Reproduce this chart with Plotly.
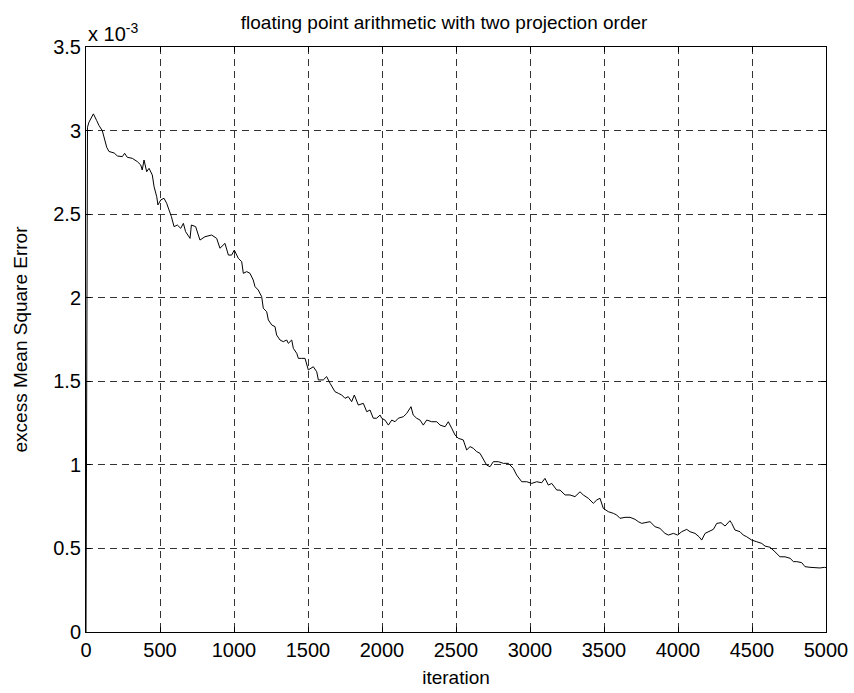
import plotly.graph_objects as go

# iteration index and excess MSE (in units of 1e-3)
iteration = [
    0, 10, 20, 50, 72, 88, 110, 122, 140, 155, 190, 212, 245, 261, 279, 313, 347, 370, 380, 392,
    410, 426, 448, 460, 478, 486, 505, 527, 545, 561, 577, 595, 617, 640, 658, 673, 703, 712, 741, 770,
    804, 849, 883, 905, 939, 962, 984, 1002, 1029, 1052, 1063, 1086, 1108, 1130, 1142, 1164, 1187, 1198, 1221, 1232,
    1255, 1277, 1288, 1311, 1333, 1356, 1367, 1390, 1401, 1424, 1435, 1457, 1480, 1502, 1536, 1559, 1570, 1603, 1626, 1649,
    1682, 1705, 1728, 1750, 1772, 1795, 1813, 1840, 1874, 1897, 1919, 1941, 1964, 1987, 1998, 2020, 2043, 2066, 2088, 2110,
    2144, 2167, 2196, 2211, 2234, 2257, 2279, 2302, 2336, 2370, 2392, 2426, 2448, 2471, 2493, 2516, 2549, 2572, 2595, 2617,
    2640, 2662, 2685, 2707, 2730, 2752, 2786, 2820, 2854, 2887, 2910, 2944, 2978, 3012, 3045, 3079, 3101, 3124, 3147, 3181,
    3203, 3237, 3270, 3304, 3338, 3360, 3394, 3428, 3451, 3473, 3495, 3529, 3563, 3586, 3608, 3642, 3676, 3710, 3732, 3755,
    3777, 3811, 3845, 3878, 3912, 3935, 3969, 3998, 4025, 4059, 4081, 4115, 4142, 4160, 4183, 4205, 4239, 4262, 4291, 4318,
    4351, 4363, 4385, 4419, 4441, 4464, 4498, 4532, 4566, 4588, 4622, 4655, 4689, 4723, 4757, 4780, 4802, 4836, 4858, 4892,
    4926, 4959, 4989, 5000,
]
mse = [
    0.0, 3.02, 3.05, 3.10, 3.06, 3.03, 3.00, 2.96, 2.90, 2.875, 2.866, 2.848, 2.844, 2.864, 2.84, 2.834, 2.814, 2.794, 2.764, 2.824,
    2.754, 2.774, 2.734, 2.664, 2.604, 2.555, 2.585, 2.595, 2.565, 2.525, 2.485, 2.425, 2.435, 2.415, 2.445, 2.395, 2.355, 2.435, 2.425, 2.345,
    2.365, 2.375, 2.355, 2.296, 2.325, 2.255, 2.255, 2.285, 2.236, 2.216, 2.146, 2.156, 2.146, 2.106, 2.066, 2.046, 2.006, 1.937, 1.916, 1.867,
    1.837, 1.827, 1.777, 1.747, 1.737, 1.747, 1.727, 1.747, 1.697, 1.667, 1.637, 1.637, 1.637, 1.568, 1.587, 1.557, 1.508, 1.508, 1.528, 1.488,
    1.438, 1.428, 1.418, 1.398, 1.408, 1.378, 1.418, 1.358, 1.368, 1.318, 1.328, 1.279, 1.279, 1.298, 1.279, 1.268, 1.238, 1.268, 1.258, 1.279,
    1.288, 1.308, 1.348, 1.298, 1.279, 1.268, 1.238, 1.268, 1.258, 1.258, 1.238, 1.228, 1.258, 1.219, 1.179, 1.159, 1.149, 1.089, 1.109, 1.099,
    1.079, 1.069, 1.029, 0.999, 0.989, 1.019, 1.019, 1.009, 1.009, 0.979, 0.939, 0.899, 0.899, 0.889, 0.899, 0.893, 0.919, 0.879, 0.889, 0.849,
    0.849, 0.820, 0.820, 0.810, 0.839, 0.820, 0.800, 0.770, 0.790, 0.800, 0.740, 0.720, 0.710, 0.700, 0.680, 0.686, 0.686, 0.674, 0.660, 0.650,
    0.654, 0.660, 0.630, 0.620, 0.590, 0.580, 0.590, 0.580, 0.600, 0.614, 0.600, 0.590, 0.570, 0.550, 0.590, 0.600, 0.614, 0.650, 0.654, 0.634,
    0.666, 0.650, 0.610, 0.600, 0.580, 0.570, 0.550, 0.540, 0.530, 0.514, 0.507, 0.480, 0.450, 0.450, 0.441, 0.421, 0.421, 0.415, 0.391, 0.387,
    0.383, 0.383, 0.387, 0.385,
]

x_ticks = [0, 500, 1000, 1500, 2000, 2500, 3000, 3500, 4000, 4500, 5000]
y_ticks = [0, 0.5, 1, 1.5, 2, 2.5, 3, 3.5]
y_tick_text = ["0", "0.5", "1", "1.5", "2", "2.5", "3", "3.5"]

FONT = "Liberation Sans, Arial, Helvetica, sans-serif"
FS = 20

fig = go.Figure()
fig.add_trace(go.Scatter(x=iteration, y=mse, mode="lines",
                         line=dict(color="black", width=1), showlegend=False))

axis_common = dict(
    showline=True, linecolor="black", linewidth=1, mirror="ticks",
    ticks="inside", ticklen=5, tickcolor="black",
    showgrid=True, gridcolor="#333333", gridwidth=1, griddash="7px,5px",
    zeroline=False, automargin=False,
    tickfont=dict(family=FONT, size=FS, color="black"),
)

fig.update_xaxes(range=[0, 5000], tickvals=x_ticks,
                 title=dict(text="iteration", font=dict(family=FONT, size=FS - 1, color="black"), standoff=10),
                 **axis_common)
fig.update_yaxes(range=[0, 3.5], tickvals=y_ticks, ticktext=y_tick_text,
                 title=dict(text="excess Mean Square Error", font=dict(family=FONT, size=FS - 1, color="black"), standoff=20),
                 **axis_common)

fig.add_annotation(x=0, y=1, xref="paper", yref="paper", xanchor="left", yanchor="bottom",
                   text="x 10<sup>-3</sup>", showarrow=False, yshift=0,
                   font=dict(family=FONT, size=FS, color="black"))

fig.update_layout(
    width=854, height=693,
    margin=dict(l=86, r=28, t=47, b=61),
    paper_bgcolor="white", plot_bgcolor="white",
    title=dict(text="floating point arithmetic with two projection order",
               x=0.52, xanchor="center", y=0.968, yanchor="middle",
               font=dict(family=FONT, size=FS - 1, color="black")),
)

fig.write_html("out.html")
